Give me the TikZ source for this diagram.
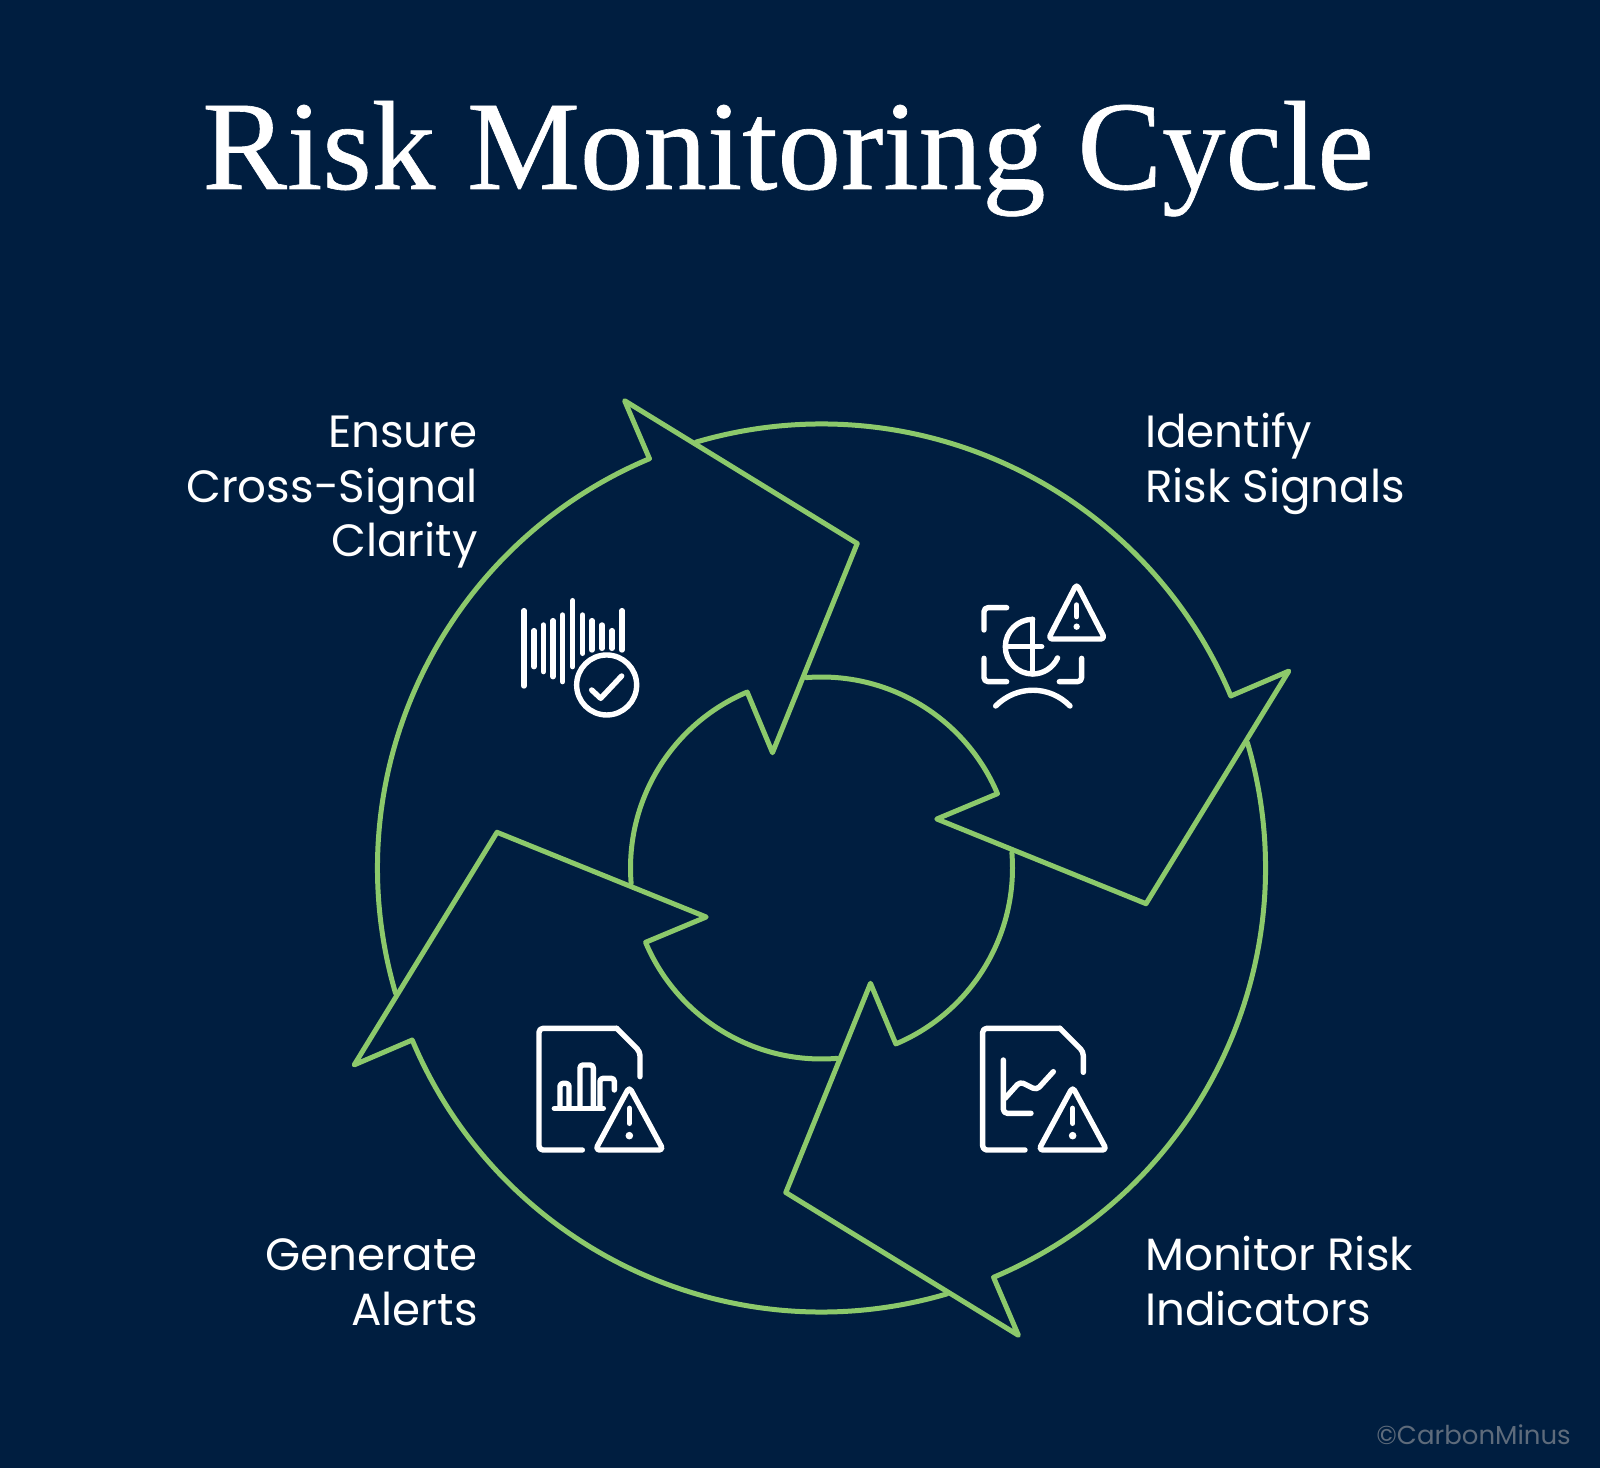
\documentclass[tikz,border=0pt]{standalone}
\usepackage{fontspec}
\setmainfont{Poppins}
\newfontfamily\titlefont[FakeBold=0.5]{Liberation Serif}
\definecolor{bgnavy}{HTML}{001E40}
\definecolor{ringgreen}{HTML}{8CC96B}
\definecolor{markgray}{HTML}{5E6B7B}
\tikzset{
    ringline/.style={draw=ringgreen,line width=5pt,line join=round,line cap=round},
    iconline/.style={draw=white,line width=5.4pt,line join=round,line cap=round},
    steplabel/.style={text=white,font=\fontsize{45.2}{54.6}\selectfont,inner sep=0pt},
    warnsign/.pic={
        \draw[iconline,rounded corners=4pt] (0,-6) -- (-102,183) -- (102,183) -- cycle;
        \draw[iconline] (0,58) -- (0,103);
        \fill[white] (0,140) circle (3.8pt);
    }
}
\begin{document}
\begin{tikzpicture}[x=1pt,y=1pt]
    \useasboundingbox (0,0) rectangle (1600,1468);
    \fill[bgnavy] (0,0) rectangle (1600,1468);

    \node[text=white,font=\titlefont\fontsize{127}{130}\selectfont,inner sep=0pt,anchor=base] (title) at (788,1279) {Risk Monitoring Cycle};

    % ring
    \foreach \ang in {0,90,180,270} {
        \begin{scope}[shift={(821.5pt,600pt)},rotate=-\ang]
            \draw[ringline] (106.4:444) arc[start angle=106.4,end angle=22.8,radius=444]
                -- (467.3,196.9) -- (324.5,-35.7) -- (115.3,49) -- (22.9:191)
                arc[start angle=22.9,end angle=94.6,radius=191];
        \end{scope}
    }

    \node[steplabel,align=left,anchor=north west] (identify) at (1145,1059) {\strut Identify\\\strut Risk Signals};
    \node[steplabel,align=left,anchor=north west] (monitor) at (1145,236) {\strut Monitor Risk\\\strut Indicators};
    \node[steplabel,align=right,anchor=north east] (alerts) at (478,236) {\strut Generate\\\strut Alerts};
    \node[steplabel,align=right,anchor=north east] (clarity) at (478,1059) {\strut Ensure\\\strut Cross-Signal\\\strut Clarity};
    \node[text=markgray,font=\fontsize{26}{30}\selectfont,inner sep=0pt,anchor=base east] (mark) at (1571,23.5) {©CarbonMinus};

    % identify icon
    \begin{scope}[shift={(960pt,898pt)},x=0.3333pt,y=-0.3333pt]
        \draw[iconline,rounded corners=4pt] (140,113) -- (72,113) -- (72,180);
        \draw[iconline,rounded corners=4pt] (72,265) -- (72,335) -- (140,335);
        \draw[iconline,rounded corners=4pt] (298,335) -- (365,335) -- (365,265);
        \draw[iconline] (218,148) arc[start angle=-90,end angle=-335.6,radius=82];
        \draw[iconline] (218,148) -- (218,312);
        \draw[iconline] (140,230) -- (245,230);
        \draw[iconline] (107,408) .. controls (170,345) and (268,345) .. (330,408);
        \draw[iconline,rounded corners=4pt] (350,42) -- (265,207) -- (435,207) -- cycle;
        \draw[iconline] (350,105) -- (350,140);
        \fill[white] (350,170) circle (3.2pt);
    \end{scope}

    % clarity icon
    \begin{scope}[shift={(510pt,878pt)},x=0.3333pt,y=-0.3333pt]
        \foreach \bx/\btop/\bbot in {42/62/288,72/122/230,100/105/245,129/92/260,158/75/275,188/32/230,218/75/190,246/92/180,276/105/175,306/122/175,336/62/180}
            \draw[iconline] (\bx,\btop) -- (\bx,\bbot);
        \draw[iconline] (290,285) circle (30pt);
        \draw[iconline] (245,300) -- (272,325) -- (335,258);
    \end{scope}

    % alerts icon
    \begin{scope}[shift={(525pt,453pt)},x=0.3333pt,y=-0.3333pt]
        \draw[iconline,rounded corners=4pt] (172,405) -- (42,405) -- (42,40) -- (275,40);
        \draw[iconline,rounded corners=4pt] (275,40) -- (345,110) -- (345,185);
        \draw[iconline] (88,280) -- (235,280);
        \draw[iconline,rounded corners=3pt] (105,280) -- (105,205) -- (132,205) -- (132,280);
        \draw[iconline,rounded corners=3pt] (165,280) -- (165,150) -- (205,150) -- (205,280);
        \draw[iconline,rounded corners=3pt] (225,280) -- (225,190) -- (268,190) -- (268,225);
        \pic at (313,222) {warnsign};
    \end{scope}

    % monitor icon
    \begin{scope}[shift={(970pt,453pt)},x=0.3333pt,y=-0.3333pt]
        \draw[iconline,rounded corners=4pt] (165,405) -- (38,405) -- (38,40) -- (270,40);
        \draw[iconline,rounded corners=4pt] (270,40) -- (340,110) -- (340,172);
        \draw[iconline,rounded corners=4pt] (100,135) -- (100,295) -- (183,295);
        \draw[iconline,rounded corners=4pt] (105,250) -- (150,200) -- (200,225) -- (250,170);
        \pic at (308,222) {warnsign};
    \end{scope}
\end{tikzpicture}
\end{document}
